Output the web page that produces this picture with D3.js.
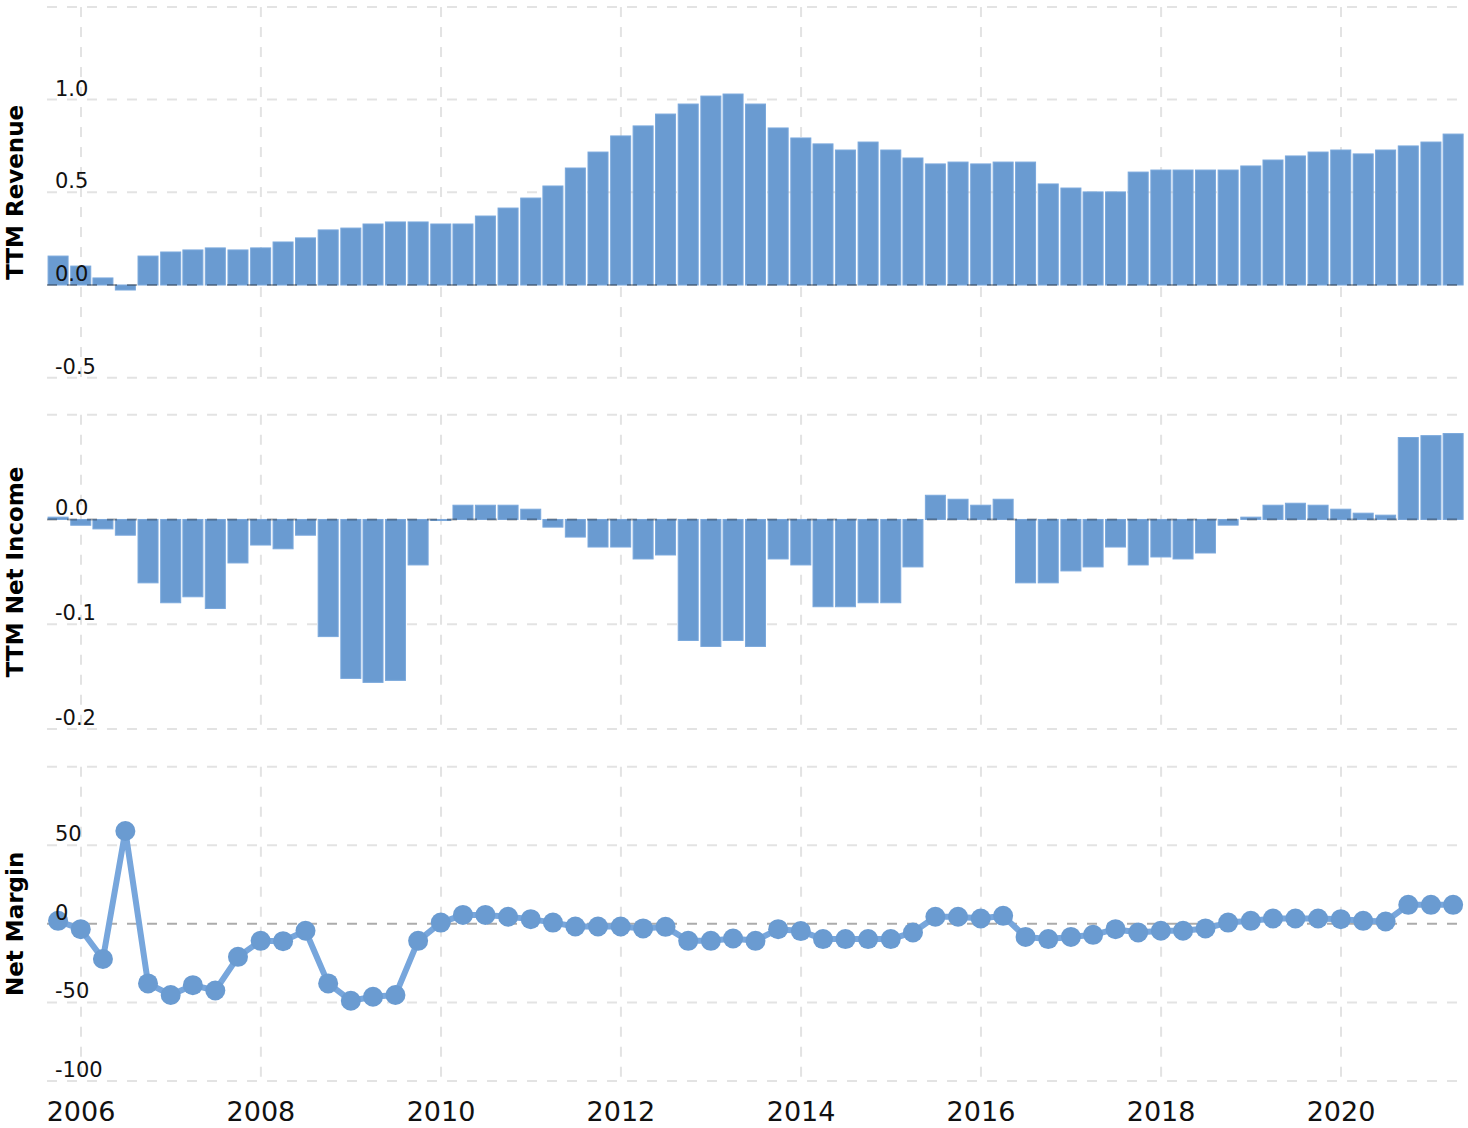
<!DOCTYPE html>
<html>
<head>
<meta charset="utf-8">
<script src="https://cdn.jsdelivr.net/npm/d3@7"></script>
<style>
  html, body { margin: 0; padding: 0; background: #fff; }
  svg { display: block; }
</style>
</head>
<body>
<svg id="chart" width="1468" height="1128"></svg>
<script>
// ---- data ----
const quarterEnds = [
  "2005-09-30","2005-12-31",
  "2006-03-31","2006-06-30","2006-09-30","2006-12-31",
  "2007-03-31","2007-06-30","2007-09-30","2007-12-31",
  "2008-03-31","2008-06-30","2008-09-30","2008-12-31",
  "2009-03-31","2009-06-30","2009-09-30","2009-12-31",
  "2010-03-31","2010-06-30","2010-09-30","2010-12-31",
  "2011-03-31","2011-06-30","2011-09-30","2011-12-31",
  "2012-03-31","2012-06-30","2012-09-30","2012-12-31",
  "2013-03-31","2013-06-30","2013-09-30","2013-12-31",
  "2014-03-31","2014-06-30","2014-09-30","2014-12-31",
  "2015-03-31","2015-06-30","2015-09-30","2015-12-31",
  "2016-03-31","2016-06-30","2016-09-30","2016-12-31",
  "2017-03-31","2017-06-30","2017-09-30","2017-12-31",
  "2018-03-31","2018-06-30","2018-09-30","2018-12-31",
  "2019-03-31","2019-06-30","2019-09-30","2019-12-31",
  "2020-03-31","2020-06-30","2020-09-30","2020-12-31",
  "2021-03-31"
];

const ttmRevenue = [
  0.156, 0.102,
  0.038, -0.027, 0.156, 0.178,
  0.189, 0.200, 0.189, 0.200,
  0.232, 0.254, 0.297, 0.307,
  0.329, 0.340, 0.340, 0.329,
  0.329, 0.372, 0.415, 0.469,
  0.534, 0.631, 0.717, 0.804,
  0.858, 0.922, 0.976, 1.019,
  1.030, 0.976, 0.847, 0.793,
  0.761, 0.728, 0.771, 0.728,
  0.685, 0.653, 0.663, 0.653,
  0.663, 0.663, 0.545, 0.523,
  0.502, 0.502, 0.609, 0.620,
  0.620, 0.620, 0.620, 0.642,
  0.674, 0.696, 0.717, 0.728,
  0.707, 0.728, 0.750, 0.771,
  0.814
];

const ttmNetIncome = [
  0.0022, -0.0055,
  -0.009, -0.015, -0.0605, -0.0795,
  -0.0738, -0.085, -0.0415, -0.0244,
  -0.028, -0.015, -0.1118, -0.1517,
  -0.1555, -0.1536, -0.0434, -0.001,
  0.0136, 0.0136, 0.0136, 0.0098,
  -0.0073, -0.0168, -0.0263, -0.0263,
  -0.0377, -0.0339, -0.1155, -0.1212,
  -0.1155, -0.1212, -0.0377, -0.0434,
  -0.0833, -0.0833, -0.0795, -0.0795,
  -0.0453, 0.0231, 0.0193, 0.0136,
  0.0193, -0.0605, -0.0605, -0.0491,
  -0.0453, -0.0263, -0.0434, -0.0358,
  -0.0377, -0.032, -0.0054, 0.0022,
  0.0136, 0.0155, 0.0136, 0.0098,
  0.006, 0.0041, 0.0782, 0.080,
  0.082
];

const netMargin = [
  1.9, -3.4,
  -22.4, 59.1, -37.9, -45.3,
  -39.0, -42.4, -21.0, -10.8,
  -11.0, -4.4, -37.9, -48.9,
  -46.4, -45.3, -10.8, 0.8,
  5.7, 5.7, 4.5, 3.0,
  0.8, -1.7, -1.7, -1.7,
  -2.9, -1.9, -10.8, -10.8,
  -9.3, -10.8, -3.4, -4.6,
  -9.7, -9.7, -9.7, -9.7,
  -5.5, 4.5, 4.5, 3.4,
  5.1, -8.3, -9.7, -8.3,
  -7.0, -3.4, -5.5, -4.4,
  -4.4, -2.9, 0.8, 1.9,
  3.4, 3.4, 3.4, 3.0,
  1.9, 1.5, 12.1, 12.1,
  12.1
];

const revenueTicks = [1.5, 1.0, 0.5, 0.0, -0.5];
const revenueTickLabels = ["", "1.0", "0.5", "0.0", "-0.5"];
const incomeTicks = [0.1, 0.0, -0.1, -0.2];
const incomeTickLabels = ["", "0.0", "-0.1", "-0.2"];
const marginTicks = [100, 50, 0, -50, -100];
const marginTickLabels = ["", "50", "0", "-50", "-100"];
const yearTicks = ["2006","2008","2010","2012","2014","2016","2018","2020"];

// ---- layout ----
const parse = d3.timeParse("%Y-%m-%d");
const dates = quarterEnds.map(parse);
const plotLeft = 47, plotRight = 1463;
const barColor = "#6a9bd1";
const lineColor = "#77a6dc";
const gridColor = "#e3e3e3";
const font = "'DejaVu Sans', Verdana, sans-serif";

const x = d3.scaleTime()
  .domain([new Date(2006, 0, 1), new Date(2020, 0, 1)])
  .range([81, 1341]);

const svg = d3.select("#chart");

const panels = [
  { title: "TTM Revenue", top: 6.9, bottom: 377.7, domain: [-0.5, 1.5],
    ticks: revenueTicks, labels: revenueTickLabels, values: ttmRevenue, type: "bar" },
  { title: "TTM Net Income", top: 414.7, bottom: 729, domain: [-0.2, 0.1],
    ticks: incomeTicks, labels: incomeTickLabels, values: ttmNetIncome, type: "bar" },
  { title: "Net Margin", top: 766.7, bottom: 1081, domain: [-100, 100],
    ticks: marginTicks, labels: marginTickLabels, values: netMargin, type: "line" }
];

panels.forEach(p => {
  const y = d3.scaleLinear().domain(p.domain).range([p.bottom, p.top]);
  const g = svg.append("g");

  // vertical year grid
  g.append("g").selectAll("line").data(yearTicks).join("line")
    .attr("x1", d => x(new Date(+d, 0, 1))).attr("x2", d => x(new Date(+d, 0, 1)))
    .attr("y1", p.top).attr("y2", p.bottom)
    .attr("stroke", gridColor).attr("stroke-width", 2)
    .attr("stroke-dasharray", "10,10");

  // horizontal grid (non-zero)
  g.append("g").selectAll("line").data(p.ticks.filter(t => t !== 0)).join("line")
    .attr("x1", plotLeft).attr("x2", plotRight)
    .attr("y1", d => y(d)).attr("y2", d => y(d))
    .attr("stroke", gridColor).attr("stroke-width", 2)
    .attr("stroke-dasharray", "10,10");

  if (p.type === "bar") {
    g.append("g").selectAll("rect").data(p.values).join("rect")
      .attr("x", (d, i) => x(dates[i]) - 10)
      .attr("width", 20)
      .attr("y", d => Math.min(y(d), y(0)))
      .attr("height", d => Math.abs(y(d) - y(0)))
      .attr("fill", barColor)
      .attr("stroke", "#7aa8dc").attr("stroke-width", 1);
  }

  // zero line
  g.append("line")
    .attr("x1", plotLeft).attr("x2", plotRight)
    .attr("y1", y(0)).attr("y2", y(0))
    .attr("stroke", "rgba(0,0,0,0.33)").attr("stroke-width", 2)
    .attr("stroke-dasharray", "10,10");

  if (p.type === "line") {
    const line = d3.line().x((d, i) => x(dates[i])).y(d => y(d));
    g.append("path").datum(p.values)
      .attr("d", line).attr("fill", "none")
      .attr("stroke", lineColor).attr("stroke-width", 6)
      .attr("stroke-linejoin", "round");
    g.append("g").selectAll("circle").data(p.values).join("circle")
      .attr("cx", (d, i) => x(dates[i])).attr("cy", d => y(d))
      .attr("r", 10).attr("fill", barColor);
  }

  // tick labels
  g.append("g").selectAll("text").data(p.ticks).join("text")
    .attr("x", 55).attr("y", d => y(d) - 4)
    .attr("font-family", font).attr("font-size", 21).attr("fill", "#111")
    .text((d, i) => p.labels[i]);

  // axis title
  g.append("text")
    .attr("transform", `translate(23,${(p.top + p.bottom) / 2}) rotate(-90)`)
    .attr("text-anchor", "middle")
    .attr("font-family", font).attr("font-weight", "bold").attr("font-size", 23)
    .attr("fill", "#000")
    .text(p.title);
});

// x axis labels
svg.append("g").selectAll("text").data(yearTicks).join("text")
  .attr("x", d => x(new Date(+d, 0, 1))).attr("y", 1121)
  .attr("text-anchor", "middle")
  .attr("font-family", font).attr("font-size", 27).attr("fill", "#111")
  .text(d => d);
</script>
</body>
</html>
